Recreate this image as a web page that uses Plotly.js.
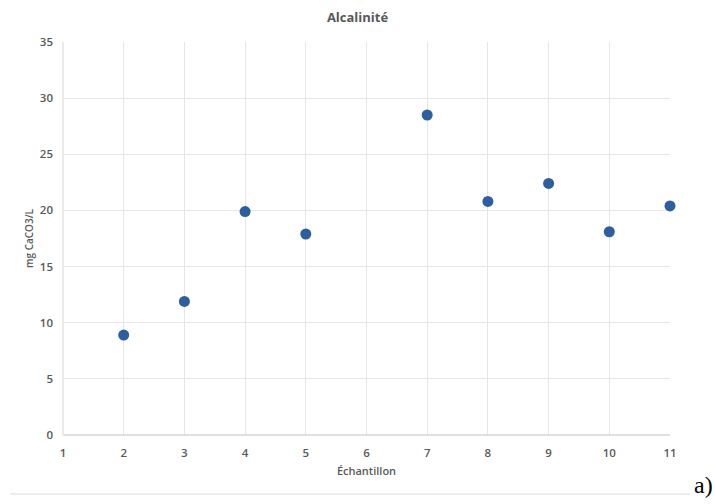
<!DOCTYPE html>
<html><head><meta charset="utf-8">
<script src="https://cdn.plot.ly/plotly-3.0.1.min.js"></script>
<style>html,body{margin:0;padding:0;background:#fff;}#chart{width:715px;height:504px;}</style>
</head><body><div id="chart"></div>
<script>
const samples = [2, 3, 4, 5, 7, 8, 9, 10, 11];
const alkalinity = [8.9, 11.9, 19.9, 17.9, 28.5, 20.8, 22.4, 18.1, 20.4];
const xTicks = [1, 2, 3, 4, 5, 6, 7, 8, 9, 10, 11];
const yTicks = [0, 5, 10, 15, 20, 25, 30, 35];

const trace = {
  x: samples, y: alkalinity, type: 'scatter', mode: 'markers',
  marker: {color: '#2F5E9E', size: 11}, cliponaxis: false, hoverinfo: 'skip'
};
const tickFont = {family: 'Open Sans, Liberation Sans, sans-serif', size: 11.5, color: '#595959', weight: 600};
const layout = {
  width: 715, height: 504,
  margin: {l: 63, r: 45, t: 42, b: 69},
  paper_bgcolor: '#fff', plot_bgcolor: '#fff',
  showlegend: false,
  title: {text: 'Alcalinité', x: 0.5, xanchor: 'center', y: 0.966, yanchor: 'middle',
    font: {family: 'Open Sans, Liberation Sans, sans-serif', size: 13, color: '#595959', weight: 700}},
  xaxis: {range: [1, 11], tickvals: xTicks, ticktext: xTicks.map(String), showgrid: true,
    gridcolor: '#e6e6e6', gridwidth: 1, zeroline: false, showline: false, ticks: '', ticklen: 0,
    ticklabelstandoff: 9,
    tickfont: tickFont, fixedrange: true,
    title: {text: 'Échantillon', standoff: 8, font: {family: 'Open Sans, Liberation Sans, sans-serif', size: 11, color: '#595959', weight: 600}}},
  yaxis: {range: [0, 35], tickvals: yTicks, showgrid: true, gridcolor: '#e6e6e6', gridwidth: 1,
    zeroline: false, showline: false, ticks: '', tickfont: tickFont, fixedrange: true,
    ticklabelstandoff: 9,
    title: {text: 'mg CaCO3/L', standoff: 4, font: {family: 'Open Sans, Liberation Sans, sans-serif', size: 10, color: '#595959', weight: 600}}},
  shapes: [
    {type: 'line', xref: 'paper', yref: 'paper', x0: 0, x1: 1, y0: 0, y1: 0, line: {color: '#d6d6d6', width: 1.5}},
    {type: 'line', xref: 'paper', yref: 'paper', x0: 0, x1: 0, y0: 0, y1: 1, line: {color: '#e3e3e3', width: 1.5}},
    {type: 'line', xref: 'paper', yref: 'paper', x0: -0.087, x1: 1.033, y0: -0.150, y1: -0.150, line: {color: '#e6e6e6', width: 1.5}}
  ],
  annotations: [
    {text: 'a)', xref: 'paper', yref: 'paper', x: 1.056, y: -0.127, xanchor: 'center', yanchor: 'middle',
     showarrow: false, font: {family: 'Liberation Serif, DejaVu Serif, serif', size: 24, color: '#000'}}
  ]
};
Plotly.newPlot('chart', [trace], layout, {displayModeBar: false, staticPlot: true});
</script></body></html>
